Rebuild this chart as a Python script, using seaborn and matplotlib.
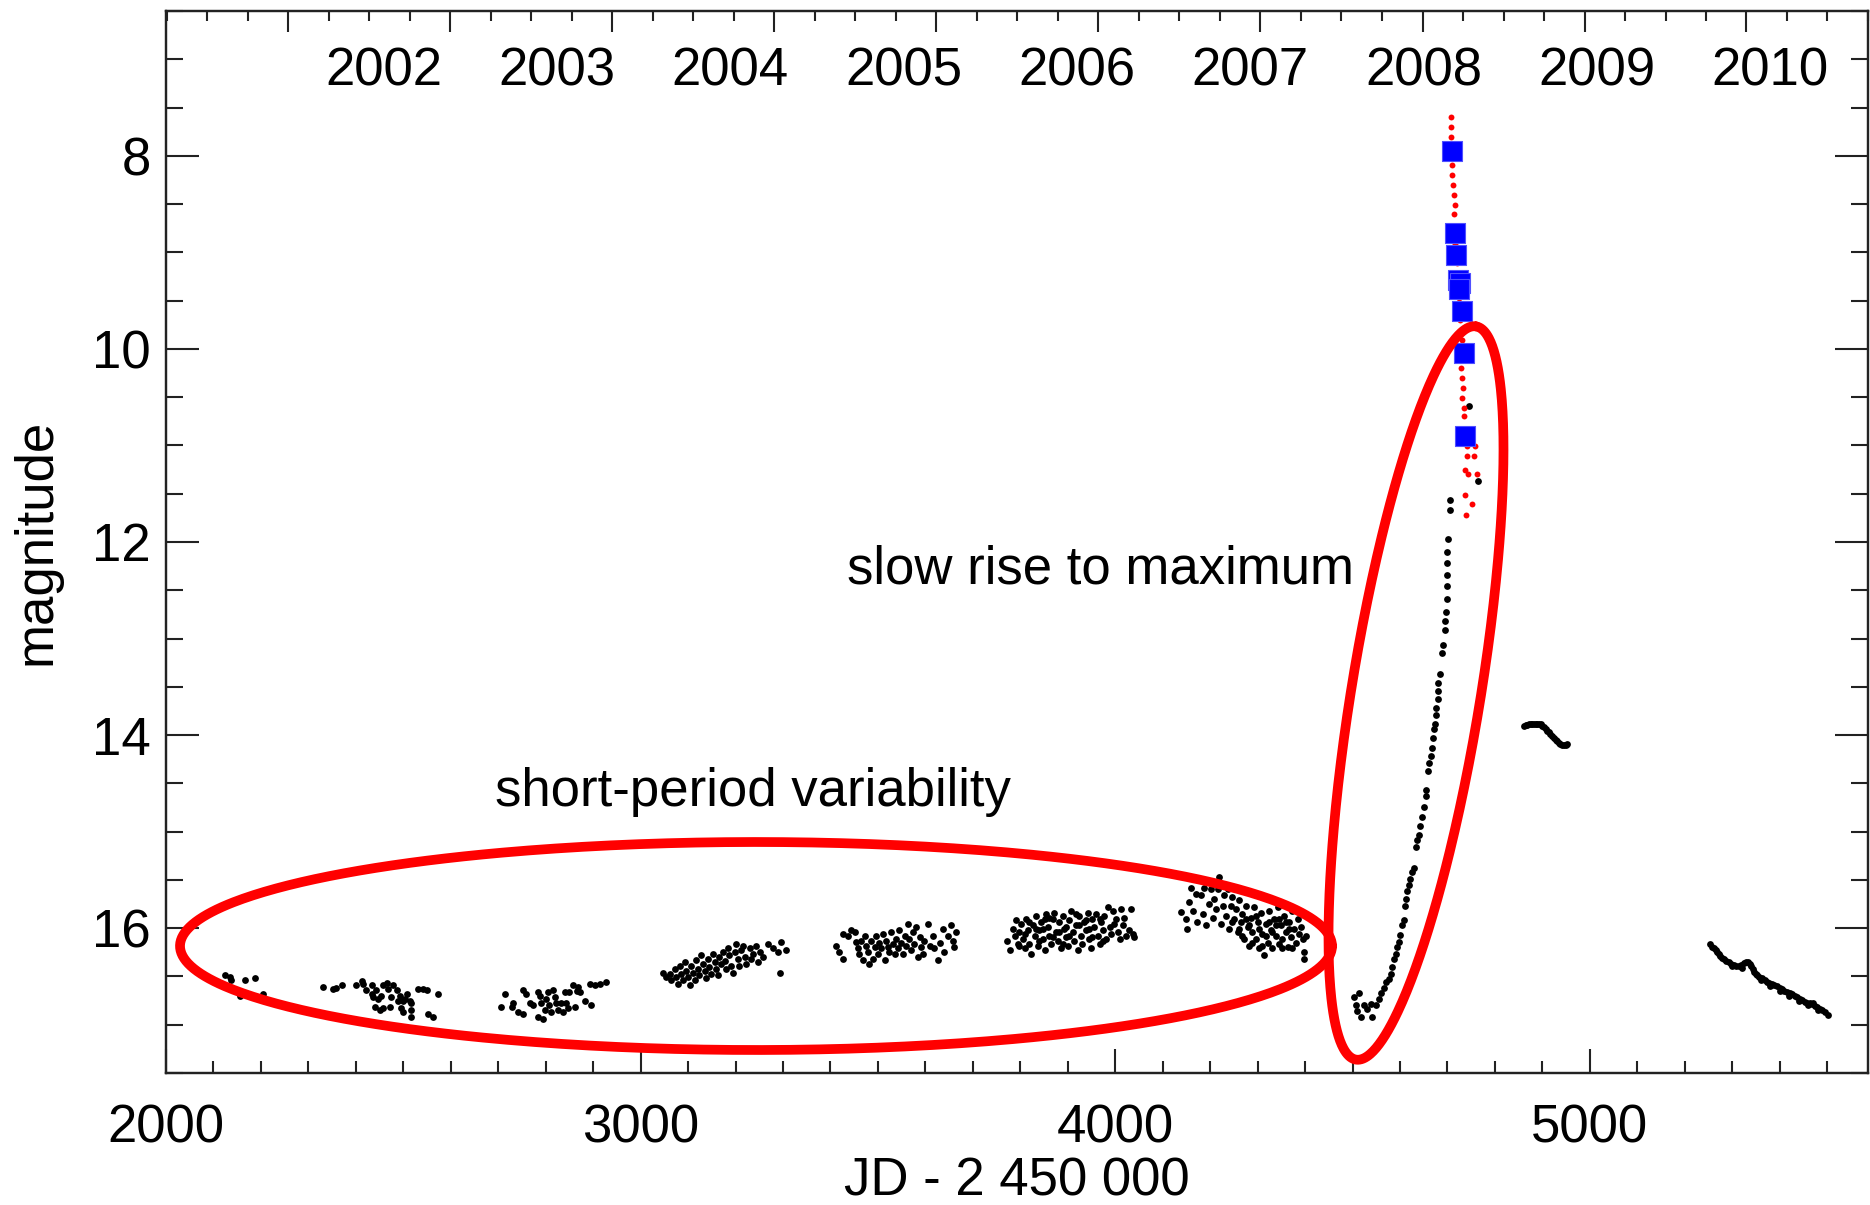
import numpy as np
import pandas as pd
import matplotlib
matplotlib.use("Agg")
import matplotlib.pyplot as plt
from matplotlib.ticker import MultipleLocator
import seaborn as sns

# light curve, JD - 2450000 vs magnitude, one list per observing season
season_2001 = [(2124, 16.49), (2135, 16.51), (2138, 16.54), (2166, 16.54), (2187, 16.52),
               (2205, 16.68), (2156, 16.70)]
season_2002 = [(2331, 16.61), (2352, 16.63), (2359, 16.62), (2370, 16.59), (2401, 16.59),
               (2412, 16.55), (2415, 16.58), (2422, 16.64), (2433, 16.59), (2433, 16.68),
               (2436, 16.71), (2443, 16.64), (2447, 16.73), (2454, 16.70), (2458, 16.59),
               (2465, 16.57), (2468, 16.63), (2475, 16.71), (2479, 16.59), (2486, 16.64),
               (2489, 16.75), (2493, 16.70), (2500, 16.75), (2503, 16.73), (2507, 16.68),
               (2514, 16.75), (2517, 16.78), (2440, 16.82), (2451, 16.85), (2458, 16.83),
               (2472, 16.82), (2496, 16.83), (2500, 16.87), (2517, 16.85), (2517, 16.92),
               (2531, 16.63), (2542, 16.63), (2549, 16.64), (2552, 16.89), (2563, 16.92),
               (2573, 16.68)]
season_2003 = [(2714, 16.68), (2705, 16.82), (2728, 16.82), (2731, 16.77), (2742, 16.87),
               (2752, 16.64), (2752, 16.89), (2759, 16.68), (2766, 16.78), (2773, 16.80),
               (2784, 16.66), (2784, 16.92), (2787, 16.70), (2791, 16.78), (2794, 16.94),
               (2798, 16.85), (2801, 16.73), (2805, 16.66), (2808, 16.80), (2812, 16.87),
               (2815, 16.64), (2819, 16.71), (2822, 16.77), (2826, 16.85), (2833, 16.78),
               (2836, 16.87), (2840, 16.66), (2843, 16.77), (2847, 16.83), (2850, 16.66),
               (2857, 16.59), (2861, 16.82), (2865, 16.65), (2868, 16.61), (2872, 16.66),
               (2882, 16.75), (2893, 16.58), (2896, 16.80), (2903, 16.59), (2914, 16.58),
               (2928, 16.56)]
season_2004 = [(3047, 16.46), (3054, 16.51), (3061, 16.47), (3065, 16.54), (3072, 16.42),
               (3075, 16.51), (3079, 16.58), (3082, 16.39), (3086, 16.47), (3089, 16.54),
               (3093, 16.35), (3096, 16.44), (3100, 16.51), (3103, 16.59), (3107, 16.39),
               (3110, 16.46), (3114, 16.54), (3117, 16.33), (3121, 16.42), (3124, 16.49),
               (3128, 16.28), (3131, 16.37), (3135, 16.44), (3138, 16.52), (3142, 16.32),
               (3145, 16.40), (3149, 16.47), (3152, 16.27), (3156, 16.35), (3159, 16.42),
               (3163, 16.49), (3166, 16.30), (3170, 16.37), (3173, 16.25), (3177, 16.34),
               (3180, 16.42), (3184, 16.21), (3187, 16.28), (3191, 16.39), (3194, 16.46),
               (3198, 16.25), (3201, 16.16), (3205, 16.32), (3208, 16.39), (3212, 16.23),
               (3215, 16.18), (3219, 16.30), (3223, 16.37), (3230, 16.21), (3233, 16.32),
               (3237, 16.27), (3244, 16.18), (3247, 16.35), (3251, 16.25), (3258, 16.30),
               (3268, 16.16), (3279, 16.21), (3289, 16.25), (3296, 16.14), (3307, 16.23),
               (3293, 16.46)]
season_2005 = [(3412, 16.18), (3419, 16.25), (3426, 16.32), (3426, 16.06), (3437, 16.08),
               (3444, 16.02), (3451, 16.04), (3454, 16.14), (3458, 16.21), (3461, 16.27),
               (3465, 16.13), (3468, 16.33), (3472, 16.08), (3475, 16.18), (3479, 16.25),
               (3482, 16.37), (3486, 16.13), (3489, 16.32), (3493, 16.20), (3496, 16.08),
               (3500, 16.27), (3503, 16.15), (3507, 16.21), (3510, 16.06), (3514, 16.33),
               (3517, 16.13), (3521, 16.20), (3524, 16.25), (3528, 16.04), (3531, 16.16),
               (3535, 16.27), (3538, 16.11), (3542, 16.21), (3545, 16.02), (3549, 16.15),
               (3552, 16.27), (3556, 16.08), (3559, 16.18), (3563, 15.96), (3566, 16.11),
               (3570, 16.23), (3574, 16.04), (3577, 16.16), (3581, 15.99), (3584, 16.30),
               (3588, 16.09), (3591, 16.20), (3595, 16.27), (3598, 16.13), (3605, 15.96),
               (3609, 16.18), (3616, 16.08), (3619, 16.21), (3626, 16.33), (3630, 16.15),
               (3637, 16.01), (3640, 16.25), (3647, 16.08), (3654, 15.97), (3658, 16.13),
               (3661, 16.20), (3665, 16.04)]
season_2006 = [(3771, 16.13), (3778, 16.23), (3784, 16.01), (3788, 16.08), (3791, 15.92),
               (3795, 16.16), (3798, 16.04), (3802, 15.96), (3805, 16.11), (3809, 16.21),
               (3812, 15.90), (3816, 16.02), (3819, 16.16), (3823, 16.27), (3826, 15.97),
               (3830, 16.08), (3833, 15.87), (3837, 16.18), (3840, 16.02), (3844, 15.94),
               (3847, 16.11), (3851, 16.23), (3854, 15.85), (3858, 15.99), (3861, 16.08),
               (3865, 16.16), (3868, 15.90), (3872, 15.84), (3875, 16.04), (3879, 16.13),
               (3882, 15.94), (3886, 16.21), (3889, 15.87), (3893, 16.01), (3896, 16.09),
               (3900, 16.18), (3903, 15.92), (3907, 15.82), (3910, 16.04), (3914, 16.13),
               (3917, 15.97), (3921, 16.23), (3924, 15.87), (3928, 16.08), (3931, 16.16),
               (3935, 15.94), (3938, 16.02), (3942, 15.84), (3945, 16.11), (3949, 16.21),
               (3952, 15.90), (3956, 15.99), (3960, 15.85), (3963, 16.08), (3967, 16.16),
               (3970, 15.94), (3974, 16.02), (3977, 15.87), (3981, 16.11), (3984, 15.78),
               (3988, 15.99), (3991, 16.06), (3995, 15.82), (3998, 15.96), (4002, 15.90),
               (4005, 16.04), (4009, 16.11), (4012, 15.80), (4016, 15.97), (4019, 15.89),
               (4023, 16.08), (4030, 16.02), (4033, 15.80), (4037, 16.06), (4040, 16.09),
               (3798, 16.18), (3819, 15.94), (3840, 16.13), (3861, 15.89), (3882, 16.04),
               (3903, 16.08), (3924, 15.97), (3945, 16.01), (3967, 15.90), (3833, 16.01),
               (3896, 15.99), (3938, 15.92), (3868, 16.09), (3917, 15.85), (3847, 16.01),
               (3889, 16.16), (3952, 16.09), (3974, 16.13), (3809, 16.06), (3851, 15.90)]
season_2007 = [(4138, 15.83), (4149, 15.90), (4152, 16.01), (4156, 15.73), (4159, 15.58),
               (4163, 15.82), (4170, 15.65), (4173, 15.94), (4180, 15.66), (4184, 15.85),
               (4187, 15.58), (4191, 15.97), (4198, 15.75), (4202, 15.59), (4205, 15.89),
               (4209, 15.70), (4212, 15.80), (4216, 15.59), (4219, 15.47), (4223, 15.96),
               (4226, 15.77), (4230, 15.66), (4233, 15.87), (4237, 15.59), (4240, 16.01),
               (4244, 15.77), (4247, 15.68), (4251, 15.90), (4254, 15.80), (4258, 16.04),
               (4261, 15.71), (4265, 15.94), (4268, 15.85), (4272, 16.11), (4275, 15.77),
               (4279, 15.99), (4282, 16.18), (4286, 15.89), (4289, 16.04), (4293, 15.78),
               (4296, 16.11), (4300, 15.94), (4303, 16.21), (4307, 15.84), (4310, 16.06),
               (4314, 16.28), (4317, 15.96), (4321, 16.15), (4324, 15.82), (4328, 16.02),
               (4331, 16.21), (4335, 15.90), (4338, 16.08), (4342, 15.78), (4345, 16.16),
               (4349, 15.97), (4352, 16.11), (4356, 15.87), (4359, 16.04), (4363, 16.20),
               (4366, 15.94), (4370, 16.09), (4373, 15.82), (4377, 16.01), (4380, 16.15),
               (4384, 15.90), (4388, 16.06), (4391, 15.99), (4395, 16.11), (4398, 16.25),
               (4402, 16.08), (4398, 16.32), (4261, 16.01), (4282, 15.97), (4303, 16.01),
               (4296, 15.87), (4317, 16.08), (4338, 15.97), (4359, 15.94), (4268, 16.08),
               (4247, 15.94), (4289, 16.15), (4331, 16.04), (4345, 15.90), (4366, 16.01),
               (4373, 16.21), (4275, 15.90), (4310, 16.18), (4324, 15.94), (4352, 16.21)]
season_2008_rise = [(4503, 16.71), (4514, 16.67), (4507, 16.80), (4510, 16.86), (4517, 16.92),
                    (4524, 16.80), (4531, 16.84), (4542, 16.92), (4538, 16.79), (4549, 16.80),
                    (4556, 16.73), (4559, 16.67), (4566, 16.62), (4570, 16.56), (4577, 16.53),
                    (4580, 16.47), (4584, 16.40), (4587, 16.32), (4591, 16.27), (4594, 16.19),
                    (4598, 16.14), (4600, 16.07), (4605, 15.97), (4608, 15.92), (4610, 15.77),
                    (4613, 15.70), (4615, 15.62), (4619, 15.55), (4622, 15.49), (4626, 15.42),
                    (4629, 15.38), (4634, 15.16), (4636, 15.09), (4640, 15.03), (4643, 14.94),
                    (4647, 14.85), (4651, 14.74), (4654, 14.63), (4655, 14.57), (4660, 14.37),
                    (4662, 14.29), (4666, 14.22), (4668, 14.13), (4670, 14.03), (4672, 13.94),
                    (4674, 13.89), (4675, 13.79), (4676, 13.72), (4679, 13.63), (4680, 13.54),
                    (4681, 13.46), (4684, 13.37), (4689, 13.15), (4691, 13.07), (4694, 12.91),
                    (4695, 12.82), (4696, 12.72), (4698, 12.59), (4698, 12.46), (4698, 12.34),
                    (4699, 12.22), (4700, 12.10), (4702, 11.97), (4705, 11.67), (4705, 11.56),
                    (4745, 10.59), (4764, 11.37)]
season_2009 = [(4861, 13.91), (4865, 13.90), (4868, 13.90), (4872, 13.89), (4875, 13.89),
               (4879, 13.88), (4882, 13.88), (4886, 13.89), (4889, 13.89), (4893, 13.89),
               (4896, 13.89), (4900, 13.91), (4903, 13.92), (4907, 13.94), (4910, 13.96),
               (4914, 13.97), (4917, 13.99), (4921, 14.01), (4924, 14.03), (4928, 14.05),
               (4931, 14.06), (4935, 14.08), (4938, 14.09), (4942, 14.10), (4945, 14.10),
               (4949, 14.10), (4952, 14.09)]
season_2010 = [(5254, 16.16), (5258, 16.19), (5261, 16.21), (5265, 16.23), (5268, 16.25),
               (5272, 16.27), (5275, 16.29), (5279, 16.31), (5282, 16.32), (5287, 16.34),
               (5293, 16.35), (5298, 16.37), (5303, 16.38), (5308, 16.39), (5314, 16.39),
               (5319, 16.38), (5324, 16.36), (5329, 16.35), (5333, 16.35), (5337, 16.37),
               (5340, 16.39), (5343, 16.42), (5345, 16.45), (5349, 16.47), (5352, 16.49),
               (5357, 16.51), (5363, 16.52), (5368, 16.54), (5373, 16.56), (5378, 16.57),
               (5384, 16.58), (5389, 16.59), (5394, 16.60), (5400, 16.62), (5405, 16.63),
               (5410, 16.65), (5415, 16.66), (5421, 16.67), (5426, 16.68), (5432, 16.70),
               (5437, 16.71), (5442, 16.73), (5447, 16.74), (5453, 16.76), (5458, 16.77),
               (5463, 16.78), (5468, 16.79), (5474, 16.81), (5479, 16.82), (5484, 16.84),
               (5489, 16.85), (5495, 16.87), (5502, 16.90),
               (5300, 16.39), (5320, 16.41), (5360, 16.54), (5380, 16.60), (5400, 16.65),
               (5420, 16.70), (5440, 16.75), (5460, 16.80), (5480, 16.85), (5470, 16.77)]

# maximum: red dots and blue squares
peak_red = [(4707, 7.60), (4707, 7.70), (4707, 7.80), (4710, 8.10), (4710, 8.20), (4712, 8.30),
            (4714, 8.41), (4715, 8.51), (4714, 8.60), (4716, 8.91), (4717, 9.01), (4719, 9.11),
            (4719, 9.22), (4721, 9.32), (4722, 9.42), (4724, 9.51), (4726, 9.70), (4728, 9.80),
            (4730, 9.91), (4730, 10.01), (4729, 10.20), (4731, 10.30), (4733, 10.41),
            (4731, 10.51), (4735, 10.61), (4735, 10.70), (4742, 11.01), (4759, 11.01),
            (4742, 11.11), (4756, 11.11), (4737, 11.25), (4744, 11.30), (4763, 11.30),
            (4737, 11.51), (4751, 11.61), (4738, 11.72)]
peak_blue = [(4710, 7.95), (4716, 8.80), (4718, 9.03), (4722, 9.29), (4726, 9.32),
             (4724, 9.38), (4730, 9.61), (4735, 10.04), (4737, 10.90)]

years = [2002, 2003, 2004, 2005, 2006, 2007, 2008, 2009, 2010]
year_start = [2275.5, 2640.5, 3005.5, 3371.5, 3736.5, 4101.5, 4466.5, 4832.5, 5197.5, 5562.5]

seasons = [season_2001, season_2002, season_2003, season_2004, season_2005, season_2006,
           season_2007, season_2008_rise, season_2009, season_2010]
black = pd.DataFrame(np.vstack(seasons), columns=["jd", "mag"])
red = pd.DataFrame(peak_red, columns=["jd", "mag"])
blue = pd.DataFrame(peak_blue, columns=["jd", "mag"])

sns.set_style("ticks")
plt.rcParams["font.family"] = ["Liberation Sans", "DejaVu Sans"]
plt.rcParams.update({"axes.linewidth": 1.6, "axes.edgecolor": "#222222",
                     "text.color": "black", "axes.labelcolor": "black",
                     "xtick.color": "#222222", "ytick.color": "#222222",
                     "xtick.labelcolor": "black", "ytick.labelcolor": "black"})

W, H = 1870, 1205
fig = plt.figure(figsize=(W / 100, H / 100), dpi=100)
ax = fig.add_axes([166 / W, 132 / H, 1702 / W, 1062 / H])

sns.scatterplot(data=black, x="jd", y="mag", color="black", s=24, linewidth=0, ax=ax)
sns.scatterplot(data=red, x="jd", y="mag", color="red", s=18, linewidth=0, ax=ax)
sns.scatterplot(data=blue, x="jd", y="mag", color="blue", marker="s", s=200,
                edgecolor="#5050ff", linewidth=0.8, ax=ax)

ax.set_xlim(2000, 5586)
ax.set_ylim(17.5, 6.5)

fs = 38
ax.xaxis.set_major_locator(MultipleLocator(1000))
ax.xaxis.set_minor_locator(MultipleLocator(100))
ax.yaxis.set_major_locator(MultipleLocator(2))
ax.yaxis.set_minor_locator(MultipleLocator(0.5))
ax.tick_params(which="both", direction="in", top=False, right=True, width=1.5)
ax.tick_params(axis="x", which="major", length=17, pad=22, labelsize=fs)
ax.tick_params(axis="x", which="minor", length=8.5)
ax.tick_params(axis="y", which="major", length=24, pad=11, labelsize=fs)
ax.tick_params(axis="y", which="minor", length=12)
ax.set_xlabel("JD - 2 450 000", fontsize=fs, labelpad=2)
ax.set_ylabel("magnitude", fontsize=fs, labelpad=22)

# calendar years on the top axis
top = ax.twiny()
top.set_xlim(ax.get_xlim())
top.set_xticks(year_start)
top.set_xticks([y + q * 365.25 / 4 for y in [1910.5] + year_start for q in (1, 2, 3)], minor=True)
top.tick_params(which="both", direction="in", labeltop=False, width=1.5)
top.tick_params(which="major", length=15)
top.tick_params(which="minor", length=7.5)
for yr, a, b in zip(years, year_start[:-1], year_start[1:]):
    ax.text((a + b) / 2, 7.13, str(yr), ha="center", va="center", fontsize=fs)

ax.text(3434, 12.28, "slow rise to maximum", ha="left", va="center", fontsize=fs)
ax.text(2693, 14.59, "short-period variability", ha="left", va="center", fontsize=fs)


# hand-drawn style rings, sized in pixels
def ring(cx, cy, w, h, ang):
    t = np.linspace(0, 2 * np.pi, 500)
    a = np.deg2rad(ang)
    px = cx + w / 2 * np.cos(t) * np.cos(a) - h / 2 * np.sin(t) * np.sin(a)
    py = cy + w / 2 * np.cos(t) * np.sin(a) + h / 2 * np.sin(t) * np.cos(a)
    pts = ax.transData.inverted().transform(np.column_stack([px, H - py]))
    ax.plot(pts[:, 0], pts[:, 1], color="red", lw=7, clip_on=False)


ring(756, 946, 1152, 208, 0)
ring(1416, 693, 743, 129, -80.7)

fig.savefig("out.png", dpi=100)
